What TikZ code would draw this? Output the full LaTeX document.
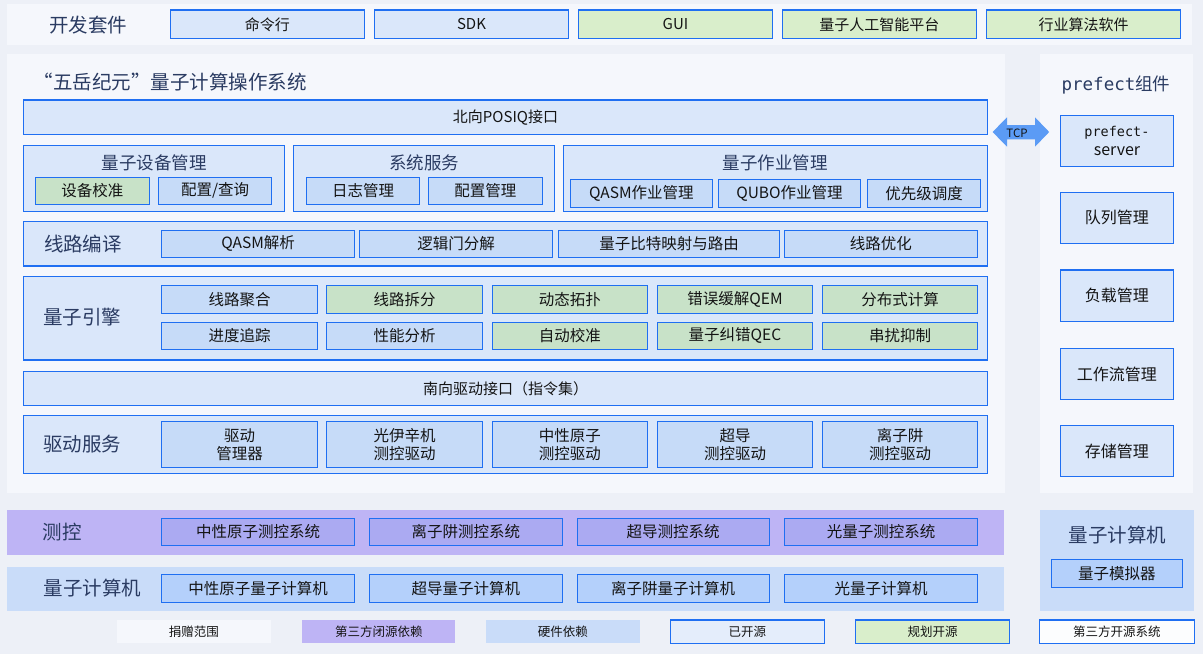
\documentclass[tikz,border=0pt]{standalone}
\usepackage{fontspec}
\setmainfont{Noto Sans CJK SC}
\newfontfamily\monof{DejaVu Sans Mono}
\definecolor{bgc}{HTML}{EDF0F7}
\definecolor{panelc}{HTML}{F5F7FC}
\definecolor{bb}{HTML}{1F6FF2}
\definecolor{grpc}{HTML}{DAE7FA}
\definecolor{innc}{HTML}{C6DBF8}
\definecolor{greenc}{HTML}{C8E2C8}
\definecolor{greent}{HTML}{D9EECB}
\definecolor{purpc}{HTML}{BEB4F5}
\definecolor{purpin}{HTML}{ABAAF2}
\definecolor{qcc}{HTML}{C9DCF9}
\definecolor{qcin}{HTML}{B4D0FB}
\definecolor{navy}{HTML}{2A3B62}
\definecolor{txt}{HTML}{141414}
\definecolor{arrc}{HTML}{5B9BF5}
\definecolor{legopen}{HTML}{E4EDFB}
\tikzset{
  x=1pt, y=-1pt,
  every node/.style={inner sep=0pt, outer sep=0pt, text=txt},
  panel/.style={fill=panelc, draw=none},
  grp/.style={draw=bb, line width=1.1pt, fill=grpc, font=\fontsize{15}{17}\selectfont},
  inbox/.style={draw=bb, line width=1.1pt, fill=innc, font=\fontsize{15.5}{18}\selectfont, align=center},
  ingreen/.style={inbox, fill=greenc},
  topbox/.style={inbox, fill=grpc, font=\fontsize{15}{17}\selectfont},
  topgreen/.style={inbox, fill=greent, font=\fontsize{15}{17}\selectfont},
  lbl/.style={text=navy, font=\fontsize{19.5}{22}\selectfont},
  gtitle/.style={text=navy, font=\fontsize{17.5}{20}\selectfont},
  pbox/.style={inbox, fill=grpc, font=\fontsize{16}{19}\selectfont},
  purpbox/.style={inbox, fill=purpin},
  qcbox/.style={inbox, fill=qcin},
  leg/.style={font=\fontsize{12.5}{14}\selectfont},
  legb/.style={leg, draw=bb, line width=1.1pt},
}
\newcommand{\bx}[7]{\node[#1, minimum width={#5-#3}, minimum height={#6-#4}] (#2) at ({(#3+#5)/2},{(#4+#6)/2}) {#7};}
\begin{document}
\begin{tikzpicture}
\fill[bgc] (0,0) rectangle (1203,654);
\useasboundingbox (0,0) rectangle (1203,654);
% top panel
\bx{panel}{toppanel}{7}{4}{1192}{45}{}
\node[lbl] (devkit) at (88,25) {开发套件};
\bx{topbox}{cli}{170.3}{10}{364.3}{38.7}{命令行}
\bx{topbox}{sdk}{374.3}{10}{568.7}{38.7}{SDK}
\bx{topgreen}{gui}{578.6}{10}{772.3}{38.7}{GUI}
\bx{topgreen}{ai}{782.3}{10}{976.2}{38.7}{量子人工智能平台}
\bx{topgreen}{ind}{986.5}{10}{1180.8}{38.7}{行业算法软件}
% main panel
\bx{panel}{mainpanel}{7}{54}{1004.6}{492.7}{}
\node[lbl, anchor=west] (title) at (33.7,81.7) {“五岳纪元”量子计算操作系统};
\bx{grp}{north}{23.7}{100}{987.3}{134.3}{北向POSIQ接口}
% group row
\bx{grp}{g1}{23.7}{145.3}{284.7}{211.3}{}
\node[gtitle] (g1t) at (154,163.3) {量子设备管理};
\bx{ingreen}{calib}{35.2}{177.3}{149.3}{204.3}{设备校准}
\bx{inbox}{cfgq}{158.4}{177.3}{271.7}{204.3}{配置/查询}
\bx{grp}{g2}{293.5}{145.3}{554.5}{211.3}{}
\node[gtitle] (g2t) at (424,163.3) {系统服务};
\bx{inbox}{logm}{306.2}{177.3}{419.8}{204.3}{日志管理}
\bx{inbox}{cfgm}{428.6}{177.3}{542.3}{204.3}{配置管理}
\bx{grp}{g3}{563.3}{145.3}{987.3}{211.3}{}
\node[gtitle] (g3t) at (775.3,163.3) {量子作业管理};
\bx{inbox}{qasmj}{570.3}{179.8}{712.5}{207.3}{QASM作业管理}
\bx{inbox}{qubo}{718.3}{179.8}{860.6}{207.3}{QUBO作业管理}
\bx{inbox}{prio}{867.6}{179.8}{980.7}{207.3}{优先级调度}
% compile
\bx{grp}{comp}{23.7}{221.3}{987.3}{266}{}
\node[lbl] (compt) at (83,244) {线路编译};
\bx{inbox}{qasmp}{161.5}{230.3}{354.8}{257.3}{QASM解析}
\bx{inbox}{gated}{359.7}{230.3}{552.6}{257.3}{逻辑门分解}
\bx{inbox}{qmap}{558.7}{230.3}{779.4}{257.3}{量子比特映射与路由}
\bx{inbox}{copt}{784.3}{230.3}{977.4}{257.3}{线路优化}
% engine
\bx{grp}{eng}{23.7}{276.7}{987.3}{360}{}
\node[lbl] (engt) at (82,316.7) {量子引擎};
\bx{inbox}{e11}{161.5}{285.3}{317.6}{313.3}{线路聚合}
\bx{ingreen}{e12}{326.4}{285.3}{482.6}{313.3}{线路拆分}
\bx{ingreen}{e13}{492.2}{285.3}{647.3}{313.3}{动态拓扑}
\bx{ingreen}{e14}{657.3}{285.3}{812.7}{313.3}{错误缓解QEM}
\bx{ingreen}{e15}{822.3}{285.3}{977.7}{313.3}{分布式计算}
\bx{inbox}{e21}{161.5}{322.3}{317.6}{349.3}{进度追踪}
\bx{inbox}{e22}{326.4}{322.3}{482.6}{349.3}{性能分析}
\bx{ingreen}{e23}{492.2}{322.3}{647.3}{349.3}{自动校准}
\bx{ingreen}{e24}{657.3}{322.3}{812.7}{349.3}{量子纠错QEC}
\bx{ingreen}{e25}{822.3}{322.3}{977.7}{349.3}{串扰抑制}
% south
\bx{grp}{south}{23.7}{371.7}{987.3}{405.3}{南向驱动接口（指令集）}
% drivers
\bx{grp}{drv}{23.7}{415.7}{987.3}{473.3}{}
\node[lbl] (drvt) at (82,444.3) {驱动服务};
\bx{inbox}{d1}{161.5}{421.7}{317.6}{467.3}{驱动\\管理器}
\bx{inbox}{d2}{326.4}{421.7}{482.6}{467.3}{光伊辛机\\测控驱动}
\bx{inbox}{d3}{492.2}{421.7}{647.3}{467.3}{中性原子\\测控驱动}
\bx{inbox}{d4}{657.3}{421.7}{812.7}{467.3}{超导\\测控驱动}
\bx{inbox}{d5}{822.3}{421.7}{977.7}{467.3}{离子阱\\测控驱动}
% prefect panel
\bx{panel}{prefpanel}{1040}{54}{1193}{492.7}{}
\node[gtitle] (preft) at (1116,85) {{\monof prefect}组件};
\bx{pbox}{pserver}{1060.4}{115.3}{1173.5}{166.3}{\monof\fontsize{13.5}{20}\selectfont prefect-\\server}
\bx{pbox}{queue}{1060.4}{192.3}{1173.5}{243.3}{队列管理}
\bx{pbox}{load}{1060.4}{270}{1173.5}{321.7}{负载管理}
\bx{pbox}{flow}{1060.4}{348.7}{1173.5}{399.3}{工作流管理}
\bx{pbox}{store}{1060.4}{425.3}{1173.5}{476.7}{存储管理}
% TCP arrow
\fill[arrc] (992.6,132) -- (1007,117.3) -- (1007,125) -- (1035,125) -- (1035,117.3) -- (1049.2,132) -- (1035,146.7) -- (1035,139.3) -- (1007,139.3) -- (1007,146.7) -- cycle;
\node[font=\fontsize{11.5}{13}\selectfont] (tcp) at (1017,133) {TCP};
% measurement & control band
\bx{panel, fill=purpc}{mc}{7}{510}{1003.8}{555}{}
\node[lbl] (mct) at (62,532.3) {测控};
\bx{purpbox}{mc1}{161.5}{518.3}{354.8}{545.3}{中性原子测控系统}
\bx{purpbox}{mc2}{369.3}{518.3}{562.6}{545.3}{离子阱测控系统}
\bx{purpbox}{mc3}{577.1}{518.3}{769.2}{545.3}{超导测控系统}
\bx{purpbox}{mc4}{784.6}{518.3}{977.7}{545.3}{光量子测控系统}
% quantum computer band
\bx{panel, fill=qcc}{qc}{7}{567.3}{1003.8}{611}{}
\node[lbl] (qct) at (92.6,588.3) {量子计算机};
\bx{qcbox}{qc1}{161.5}{574.3}{354.8}{602.3}{中性原子量子计算机}
\bx{qcbox}{qc2}{369.3}{574.3}{562.6}{602.3}{超导量子计算机}
\bx{qcbox}{qc3}{577.1}{574.3}{769.2}{602.3}{离子阱量子计算机}
\bx{qcbox}{qc4}{784.6}{574.3}{977.7}{602.3}{光量子计算机}
% right quantum computer panel
\bx{panel, fill=qcc}{qcr}{1040.4}{510}{1194.2}{611}{}
\node[lbl] (qcrt) at (1117.3,535) {量子计算机};
\bx{qcbox}{sim}{1051.2}{559.3}{1182.7}{587.3}{量子模拟器}
% legend
\bx{leg, fill=panelc}{l1}{116.7}{620}{271}{643.3}{捐赠范围}
\bx{leg, fill=purpc}{l2}{302.3}{620}{455.4}{643.3}{第三方闭源依赖}
\bx{leg, fill=qcc}{l3}{486}{620}{639.6}{643.3}{硬件依赖}
\bx{legb, fill=legopen}{l4}{670.4}{620}{824.2}{643.3}{已开源}
\bx{legb, fill=greent}{l5}{855.4}{620}{1009.6}{643.3}{规划开源}
\bx{legb, fill=white!70!panelc}{l6}{1039.6}{620}{1194.2}{643.3}{第三方开源系统}
\end{tikzpicture}
\end{document}
